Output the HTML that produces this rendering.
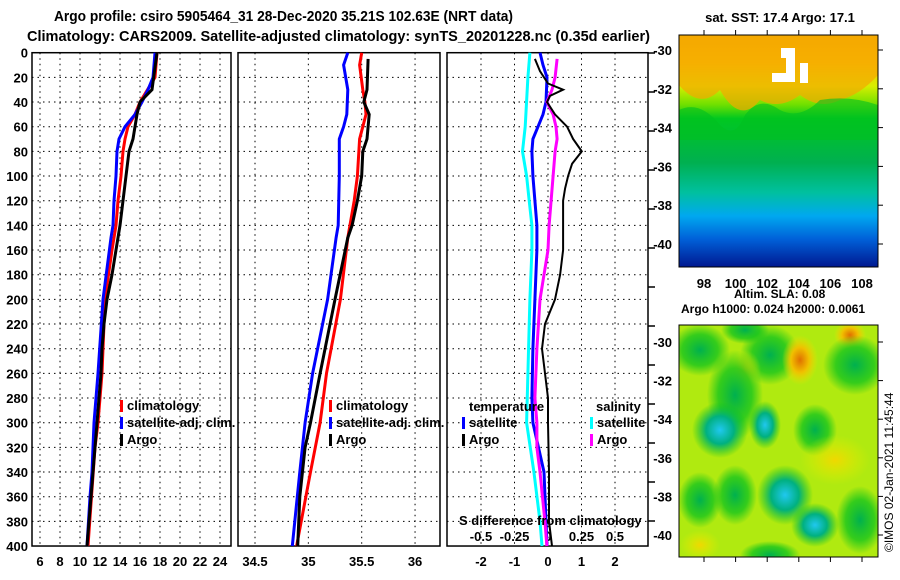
<!DOCTYPE html>
<html><head><meta charset="utf-8"><style>
html,body{margin:0;padding:0;background:#fff;}
svg{display:block;font-family:"Liberation Sans Narrow","Liberation Sans",sans-serif;font-weight:bold;}
</style></head><body>
<svg id="chart" width="900" height="580" viewBox="0 0 900 580" xmlns="http://www.w3.org/2000/svg">
<defs>
<linearGradient id="sstGrad" x1="0" y1="0" x2="0" y2="1">
<stop offset="0" stop-color="#f5a800"/><stop offset="0.12" stop-color="#f8c000"/>
<stop offset="0.22" stop-color="#d8ee00"/><stop offset="0.3" stop-color="#70e000"/>
<stop offset="0.36" stop-color="#00c820"/><stop offset="0.55" stop-color="#00b050"/>
<stop offset="0.68" stop-color="#00c0a0"/><stop offset="0.78" stop-color="#00a8f0"/>
<stop offset="0.88" stop-color="#0060d8"/><stop offset="1" stop-color="#001890"/>
</linearGradient>
<radialGradient id="blobO"><stop offset="0" stop-color="#e07000"/><stop offset="0.5" stop-color="#f0c000"/><stop offset="1" stop-color="#f0e000" stop-opacity="0"/></radialGradient>
<radialGradient id="blobY"><stop offset="0" stop-color="#f0d800"/><stop offset="1" stop-color="#e0f000" stop-opacity="0"/></radialGradient>
<radialGradient id="blobG"><stop offset="0" stop-color="#00b050"/><stop offset="0.6" stop-color="#00c020" stop-opacity="0.7"/><stop offset="1" stop-color="#00c020" stop-opacity="0"/></radialGradient>
<radialGradient id="blobC"><stop offset="0" stop-color="#20c8f0"/><stop offset="0.5" stop-color="#00b080"/><stop offset="1" stop-color="#00c020" stop-opacity="0"/></radialGradient>
</defs>
<text x="54" y="21" font-size="15" textLength="459" lengthAdjust="spacingAndGlyphs">Argo profile: csiro 5905464_31 28-Dec-2020 35.21S 102.63E (NRT data)</text>
<text x="27" y="41" font-size="15" textLength="623" lengthAdjust="spacingAndGlyphs">Climatology: CARS2009. Satellite-adjusted climatology: synTS_20201228.nc (0.35d earlier)</text>
<g id="panels"></g>
<g id="maps">
<text x="780" y="22" font-size="13" text-anchor="middle">sat. SST: 17.4 Argo: 17.1</text>
<rect x="679" y="35" width="199" height="232" fill="url(#sstGrad)"/>
<path d="M679 35 H878 V75 Q860 95 840 100 Q820 110 800 95 Q780 110 760 100 Q740 125 720 90 Q700 110 679 85 Z" fill="#f5a800" opacity="0.7"/>
<path d="M679 110 Q700 100 720 125 Q735 140 745 115 Q760 95 780 110 Q800 120 820 100 Q850 95 878 105 V140 H679Z" fill="#00c020" opacity="0.6"/>
<rect x="781" y="48" width="14" height="10" fill="#fff"/><rect x="786" y="58" width="9" height="24" fill="#fff"/><rect x="772" y="73" width="14" height="9" fill="#fff"/><rect x="800" y="63" width="8" height="20" fill="#fff"/>
<rect x="679" y="35" width="199" height="232" fill="none" stroke="#000" stroke-width="1"/>
<g id="sstTicks"></g>
<text x="734" y="298" font-size="12">Altim. SLA: 0.08</text>
<text x="681" y="313" font-size="12">Argo h1000: 0.024 h2000: 0.0061</text>
<rect x="679" y="325" width="199" height="232" fill="#b0ea10"/>
<clipPath id="slaClip"><rect x="679" y="325" width="199" height="232"/></clipPath>
<g clip-path="url(#slaClip)">
<ellipse cx="700" cy="350" rx="30" ry="26" fill="url(#blobG)"/>
<ellipse cx="770" cy="355" rx="30" ry="30" fill="url(#blobG)"/>
<ellipse cx="800" cy="360" rx="18" ry="25" fill="url(#blobO)"/>
<ellipse cx="850" cy="335" rx="16" ry="14" fill="url(#blobO)"/>
<ellipse cx="855" cy="365" rx="32" ry="30" fill="url(#blobG)"/>
<ellipse cx="745" cy="370" rx="16" ry="20" fill="url(#blobY)"/>
<ellipse cx="735" cy="395" rx="28" ry="45" fill="url(#blobG)"/>
<ellipse cx="720" cy="430" rx="28" ry="28" fill="url(#blobC)"/>
<ellipse cx="765" cy="425" rx="16" ry="24" fill="url(#blobC)"/>
<ellipse cx="815" cy="430" rx="22" ry="26" fill="url(#blobG)"/>
<ellipse cx="835" cy="460" rx="35" ry="25" fill="url(#blobY)"/>
<ellipse cx="735" cy="495" rx="22" ry="30" fill="url(#blobG)"/>
<ellipse cx="785" cy="495" rx="28" ry="30" fill="url(#blobC)"/>
<ellipse cx="815" cy="525" rx="24" ry="22" fill="url(#blobC)"/>
<ellipse cx="700" cy="500" rx="22" ry="28" fill="url(#blobG)"/>
<ellipse cx="700" cy="545" rx="20" ry="15" fill="url(#blobY)"/>
<ellipse cx="770" cy="555" rx="30" ry="14" fill="url(#blobG)"/>
<ellipse cx="860" cy="520" rx="24" ry="34" fill="url(#blobG)"/>
<ellipse cx="745" cy="330" rx="24" ry="14" fill="url(#blobG)"/>
</g>
<rect x="679" y="325" width="199" height="232" fill="none" stroke="#000" stroke-width="1"/>
<g id="slaTicks"></g>
<text transform="translate(893,552) rotate(-90)" font-size="12" font-weight="normal">©IMOS 02-Jan-2021 11:45:44</text>
</g>
</svg>
<script>
// ---- data arrays ----
const depthTicks=[0,20,40,60,80,100,120,140,160,180,200,220,240,260,280,300,320,340,360,380,400];
const tTicks=[6,8,10,12,14,16,18,20,22,24];
const sTicks=[34.5,35,35.5,36];
const dTicks=[-2,-1,0,1,2];
const sdTickLabels=["-0.5","-0.25","0","0.25","0.5"];
const sdTicks=[-0.5,-0.25,0,0.25,0.5];
const latTicks=[-30,-32,-34,-36,-38,-40];
const lonTicks=[98,100,102,104,106,108];

const tArgoDepth=[0,30,40,50,60,70,80,100,120,140,160,180,200,220,240,260,280,300,320,340,360,380,400];
const tArgo=[17.7,17.2,16.0,15.7,15.5,15.3,14.9,14.6,14.3,14.0,13.6,13.2,12.7,12.4,12.2,12.1,11.9,11.7,11.5,11.3,11.1,10.9,10.7];
const tClimDepth=[0,20,40,50,60,70,80,100,120,140,160,200,260,300,320,400];
const tClim=[17.7,17.5,16.0,15.5,14.8,14.5,14.3,14.1,13.8,13.6,13.2,12.5,12.2,11.8,11.5,10.8];
const tSatDepth=[0,20,30,40,50,60,70,80,100,120,140,150,200,260,300,340,360,400];
const tSat=[17.5,17.3,16.8,16.2,15.5,14.5,13.9,13.7,13.6,13.4,13.3,13.1,12.3,11.8,11.4,11.2,11.0,10.7];

const sArgoDepth=[5,30,40,50,60,70,80,100,120,140,150,200,260,300,320,360,400];
const sArgo=[35.56,35.55,35.52,35.57,35.56,35.55,35.51,35.50,35.46,35.41,35.37,35.25,35.11,35.02,34.97,34.92,34.90];
const sClimDepth=[0,10,30,40,50,60,70,100,120,150,200,260,300,340,400];
const sClim=[35.50,35.48,35.51,35.53,35.54,35.51,35.48,35.46,35.43,35.37,35.30,35.17,35.11,35.02,34.89];
const sSatDepth=[0,10,30,50,60,70,100,140,150,200,260,300,340,400];
const sSat=[35.37,35.33,35.37,35.36,35.33,35.29,35.29,35.28,35.26,35.18,35.04,34.97,34.92,34.85];

const dTArgoDepth=[5,15,25,30,35,40,50,60,70,80,90,100,110,120,140,160,180,200,220,240,280,300,340,380,400];
const dTArgo=[-0.39,-0.24,0,0.45,0.06,-0.03,0.21,0.57,0.75,1.01,0.72,0.6,0.51,0.45,0.45,0.45,0.36,0.21,-0.09,-0.18,0,0,0.03,0.03,0.12];
const dTSatDepth=[0,10,20,40,50,60,70,80,100,120,140,160,200,240,280,300,340,380,400];
const dTSat=[-0.24,-0.15,-0.03,-0.06,-0.15,-0.3,-0.45,-0.48,-0.45,-0.39,-0.33,-0.33,-0.39,-0.45,-0.48,-0.45,-0.12,-0.06,-0.03];
const dSSatDepth=[0,20,60,80,100,120,140,160,200,260,300,340,380,400];
const dSSat=[-0.135,-0.15,-0.17,-0.19,-0.16,-0.14,-0.12,-0.12,-0.135,-0.15,-0.16,-0.105,-0.06,-0.045];
const dSArgoDepth=[5,20,30,40,50,60,70,80,100,120,140,160,200,240,280,300,320,340,380,400];
const dSArgo=[0.068,0.053,0.03,-0.008,0.038,0.06,0.068,0.053,0.038,0.023,0.008,0,-0.06,-0.083,-0.098,-0.083,-0.083,-0.06,-0.023,-0.008];

// ---- scales ----
const NS="http://www.w3.org/2000/svg";
const yD=d=>52.7+d*1.2333;
const xT=t=>40+(t-6)*10;
const xS=s=>255+(s-34.5)*106.7;
const xDT=d=>548+d*33.5;
const xDS=d=>548+d*134;
const g=document.getElementById('panels');
function mk(tag,attrs,parent){const e=document.createElementNS(NS,tag);for(const k in attrs)e.setAttribute(k,attrs[k]);(parent||g).appendChild(e);return e;}
function txt(x,y,s,anchor,size,parent){const e=mk('text',{x:x,y:y,'font-size':size||13,'text-anchor':anchor||'start'},parent);e.textContent=s;return e;}
function line(depths,vals,xf,color,w){
  const pts=depths.map((d,i)=>xf(vals[i]).toFixed(1)+','+yD(d).toFixed(1)).join(' ');
  return mk('polyline',{points:pts,fill:'none',stroke:color,'stroke-width':w||3,'stroke-linejoin':'miter'});
}
const panels=[{x0:32,x1:231,name:'temperature-panel'},{x0:238,x1:440,name:'salinity-panel'},{x0:447,x1:648,name:'difference-panel'}];
panels.forEach((p,pi)=>{
  const pg=mk('g',{});
  
  
  depthTicks.forEach(d=>{ if(d>0&&d<400) mk('line',{x1:p.x0,x2:p.x1,y1:yD(d),y2:yD(d),stroke:'#000','stroke-width':1,'stroke-dasharray':'1.5,4'},pg);});
  const xs= pi==0? tTicks.map(xT): pi==1? sTicks.map(xS): dTicks.map(xDT);
  xs.forEach(x=>{ if(x>p.x0+2&&x<p.x1-2) mk('line',{x1:x,x2:x,y1:yD(0),y2:yD(400),stroke:'#000','stroke-width':1,'stroke-dasharray':'1.5,4'},pg);});
  mk('rect',{x:p.x0,y:yD(0),width:p.x1-p.x0,height:yD(400)-yD(0),fill:'none',stroke:'#000','stroke-width':1.5},pg);
  p.g=pg;
});
depthTicks.forEach(d=>{const e=txt(28,yD(d)+5,String(d),'end',13);

});
tTicks.forEach(t=>{const e=txt(xT(t),566,String(t),'middle',13);

});
sTicks.forEach(s=>{const e=txt(xS(s),566,String(s),'middle',13);

});
dTicks.forEach(d=>{const e=txt(xDT(d),566,String(d),'middle',13);

});
sdTicks.forEach((d,i)=>{const e=txt(xDS(d),541,sdTickLabels[i],'middle',13);

});
for(let y=53;y<=546;y+=39){mk('line',{x1:648,x2:655,y1:y,y2:y,stroke:'#000','stroke-width':1.5});}
let e;
e=line(tClimDepth,tClim,xT,'#ff0000');


e=line(tSatDepth,tSat,xT,'#0000ff');


e=line(tArgoDepth,tArgo,xT,'#000000');


e=line(sClimDepth,sClim,xS,'#ff0000');


e=line(sSatDepth,sSat,xS,'#0000ff');


e=line(sArgoDepth,sArgo,xS,'#000000');


e=line(dSSatDepth,dSSat,xDS,'#00ffff');


e=line(dTSatDepth,dTSat,xDT,'#0000ff');


e=line(dSArgoDepth,dSArgo,xDS,'#ff00ff');


e=line(dTArgoDepth,dTArgo,xDT,'#000000',2);


function leg(x,y,color,label){
  const lg=mk('g',{});
  
  
  mk('rect',{x:x,y:y-10,width:3,height:12,fill:color},lg);
  txt(x+7,y,label,'start',13,lg);
}
[[120,'#ff0000','climatology',410],[120,'#0000ff','satellite-adj. clim.',427],[120,'#000','Argo',444],
 [329,'#ff0000','climatology',410],[329,'#0000ff','satellite-adj. clim.',427],[329,'#000','Argo',444],
 [462,'#0000ff','satellite',427],[462,'#000','Argo',444],[590,'#00ffff','satellite',427],[590,'#ff00ff','Argo',444]]
 .forEach(a=>leg(a[0],a[3],a[1],a[2]));
e=txt(469,411,'temperature','start',13);


e=txt(596,411,'salinity','start',13);


e=txt(459,525,'S difference from climatology','start',13);


const mg=document.getElementById('sstTicks');
const sg=document.getElementById('slaTicks');
const lonX=l=>704+(l-98)*15.8;
const latYsst=l=>50+(-30-l)*19.4;
const latYsla=l=>342+(-30-l)*19.3;
lonTicks.forEach(l=>{
  mk('line',{x1:lonX(l),x2:lonX(l),y1:30,y2:35,stroke:'#000'},mg);
  mk('line',{x1:lonX(l),x2:lonX(l),y1:557,y2:562,stroke:'#000'},sg);
  const t=txt(lonX(l),288,String(l),'middle',13,mg);
  
  
});
latTicks.forEach(l=>{
  mk('line',{x1:878,x2:883,y1:latYsst(l),y2:latYsst(l),stroke:'#000'},mg);
  const a=txt(672,latYsst(l)+5,String(l),'end',13,mg);
  
  
  mk('line',{x1:878,x2:883,y1:latYsla(l),y2:latYsla(l),stroke:'#000'},sg);
  const b=txt(672,latYsla(l)+5,String(l),'end',13,sg);
  
  
});
</script>
</body></html>
